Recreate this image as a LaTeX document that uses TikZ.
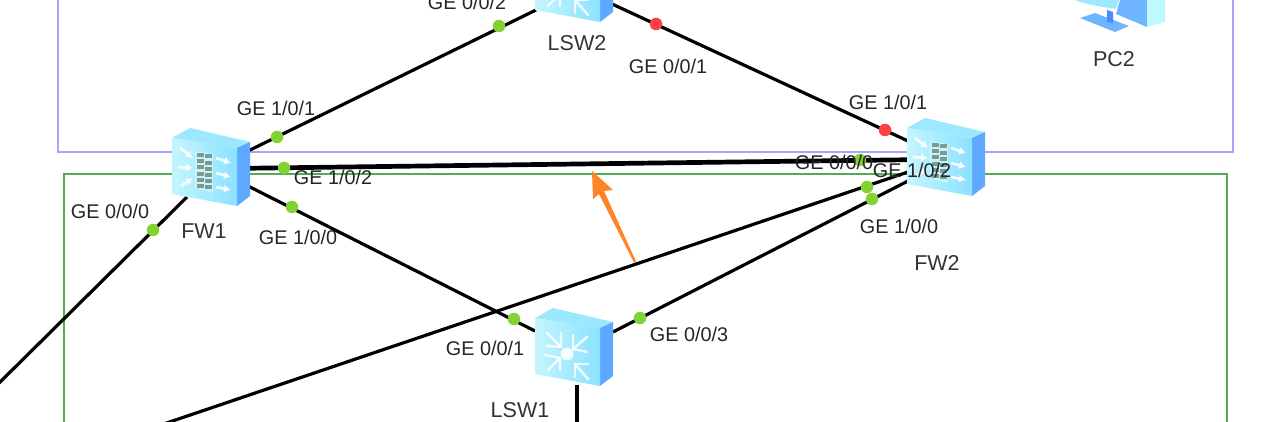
\documentclass[tikz,border=0pt]{standalone}
\usepackage{fontspec}
\setmainfont{Liberation Sans}
\usetikzlibrary{calc,arrows.meta}
\definecolor{frameP}{HTML}{A6A6FF}
\definecolor{frameG}{HTML}{55AA55}
\definecolor{dotG}{HTML}{82D234}
\definecolor{dotR}{HTML}{FF4040}
\definecolor{arrowO}{HTML}{FF8427}
\definecolor{faceA}{HTML}{C4F5FF}
\definecolor{faceB}{HTML}{8BE2FF}
\definecolor{topF}{HTML}{9CE8FF}
\definecolor{sideF}{HTML}{5FA8FF}
\definecolor{brickF}{HTML}{7E9A8E}
\definecolor{pcA}{HTML}{6FB4FF}
\definecolor{pcB}{HTML}{4A8CFF}
\definecolor{pcC}{HTML}{BFF8FF}
\definecolor{pcD}{HTML}{A0E8FF}
\tikzset{
  link/.style={draw=black,line width=3.2pt},
  port/.style={circle,inner sep=0pt,minimum size=12.5pt,fill=dotG,draw=none},
  portred/.style={port,fill=dotR},
  lbl/.style={font=\fontsize{19.8}{22}\selectfont,text=black!85,inner sep=0pt},
  devname/.style={font=\fontsize{21.5}{24}\selectfont,text=black!80,inner sep=0pt},
  whitearrow/.style={draw=white,opacity=.9,line width=2.6pt,-{Latex[length=7pt,width=8pt]}},
  whitebar/.style={draw=white,opacity=.85,line width=2.4pt,line cap=round,line join=round}
}
% box icon with its top-left front corner at the local origin
\newcommand{\boxicon}[1]{%
  \begin{scope}[shift={#1}]
    \fill[topF] (0,0) -- (18,-10) -- (78,4) -- (65,10) -- cycle;
    \fill[sideF] (65,10) -- (78,4) -- (78,58) -- (65,68) -- cycle;
    \shade[left color=faceA,right color=faceB] (0,0) -- (65,10) -- (65,68) -- (0,56) -- cycle;
  \end{scope}}
\newcommand{\fwicon}[1]{%
  \boxicon{#1}
  \begin{scope}[shift={#1}]
    \draw[whitearrow] (8,10) -- (21,20);
    \draw[whitearrow] (6,29) -- (21,30);
    \draw[whitearrow] (9,48) -- (21,40);
    \draw[whitearrow] (44,20) -- (59,25);
    \draw[whitearrow] (44,35) -- (59,39);
    \draw[whitearrow] (44,49) -- (59,52);
    \fill[faceA] (23,13) -- (41,16) -- (41,55) -- (23,50) -- cycle;
    \foreach \r in {0,1,2,3,4,5}{
      \fill[brickF] (24.5,{15+\r*6.2}) rectangle ++(7,4);
      \fill[brickF] (33,{16.5+\r*6.2}) rectangle ++(7,4);
    }
  \end{scope}}
\newcommand{\swicon}[1]{%
  \boxicon{#1}
  \begin{scope}[shift={#1}]
    \fill[white,opacity=.9] (32,36) circle (6.5);
    \draw[whitebar] (12,15) -- (26,29);
    \draw[whitebar] (26,15) -- (26,29) -- (12,28);
    \draw[whitebar] (52,19) -- (38,31);
    \draw[whitebar] (38,17) -- (38,31) -- (52,34);
    \draw[whitebar] (13,52) -- (25,40);
    \draw[whitebar] (10,37) -- (25,40) -- (25,52);
    \draw[whitebar] (53,61) -- (40,46);
    \draw[whitebar] (40,59) -- (40,46) -- (53,46);
  \end{scope}}
\begin{document}
\begin{tikzpicture}[x=1pt,y=-1pt]
  \clip (0,0) rectangle (1267,422);
  \fill[white] (0,0) rectangle (1267,422);
  % group frames
  \draw[frameP,line width=1.4pt] (58,-12) rectangle (1233,152);
  \draw[frameG,line width=1.4pt] (64,174) rectangle (1227,440);

  % connector ends
  \coordinate (fw1u) at (248,151);
  \coordinate (fw1m1) at (248,167.5);
  \coordinate (fw1m2) at (248,169);
  \coordinate (fw1d) at (248,186);
  \coordinate (fw1s) at (187,197);
  \coordinate (sw2l) at (536,10);
  \coordinate (sw2r) at (612,4);
  \coordinate (fw2u) at (908,141);
  \coordinate (fw2m1) at (908,159);
  \coordinate (fw2m2) at (908,160.5);
  \coordinate (fw2c) at (908,172);
  \coordinate (fw2d) at (908,181);
  \coordinate (sw1l) at (535,331);
  \coordinate (sw1r) at (613,332);
  \coordinate (sw1b) at (577,385);
  \coordinate (offA) at (140,432);
  \coordinate (offB) at (-10,392);
  \coordinate (offC) at (577,430);

  % connectors
  \draw[link] (fw1u) -- (sw2l);
  \draw[link] (sw2r) -- (fw2u);
  \draw[link] (fw1m1) -- (fw2m1);
  \draw[link] (fw1m2) -- (fw2m2);
  \draw[link] (fw1d) -- (sw1l);
  \draw[link] (sw1r) -- (fw2d);
  \draw[link] (fw2c) -- (offA);
  \draw[link] (fw1s) -- (offB);
  \draw[link] (sw1b) -- (offC);

  % port dots
  \node[port] (p1) at (277,137) {};
  \node[port] (p2) at (499,26) {};
  \node[portred] (p3) at (656,24) {};
  \node[portred] (p4) at (885,130) {};
  \node[port] (p5) at (284,168) {};
  \node[port] (p6) at (867,187) {};
  \node[port] (p7) at (872,199) {};
  \node[port] (p8) at (292,207) {};
  \node[port] (p9) at (514,319) {};
  \node[port] (p10) at (640,318) {};
  \node[port] (p11) at (153,230) {};
  \node[port] (p12) at (860,160) {};

  % devices
  \fwicon{(172,138)}
  \fwicon{(907,128)}
  \swicon{(535,318)}
  \swicon{(535,-46)}
  % PC2
  \fill[pcA] (1080,18) -- (1095,13) -- (1129,26) -- (1115,32) -- cycle;
  \fill[pcB] (1107,10) -- (1113,12) -- (1113,23) -- (1107,22) -- cycle;
  \fill[pcD] (1075,0) -- (1083,3) -- (1103,7) -- (1116,9) -- (1119,0) -- cycle;
  \fill[pcA] (1120,0) -- (1147,0) -- (1147,27) -- (1116,14) -- cycle;
  \fill[pcC] (1147,0) -- (1165,0) -- (1165,22) -- (1147,27) -- cycle;

  % labels
  \node[lbl] (l1) at (467,2) {GE 0/0/2};
  \node[lbl] (l2) at (276,108) {GE 1/0/1};
  \node[lbl] (l3) at (333,177) {GE 1/0/2};
  \node[lbl] (l4) at (298,237) {GE 1/0/0};
  \node[lbl] (l5) at (110,211) {GE 0/0/0};
  \node[lbl] (l6) at (668,66) {GE 0/0/1};
  \node[lbl] (l7) at (888,102) {GE 1/0/1};
  \node[lbl] (l8) at (834,162) {GE 0/0/0};
  \node[lbl] (l9) at (912,170) {GE 1/0/2};
  \node[lbl] (l10) at (899,226) {GE 1/0/0};
  \node[lbl] (l11) at (485,348) {GE 0/0/1};
  \node[lbl] (l12) at (689,334) {GE 0/0/3};
  \node[devname] (n1) at (204,231) {FW1};
  \node[devname] (n2) at (577,43) {LSW2};
  \node[devname] (n3) at (937,263) {FW2};
  \node[devname] (n4) at (520,410) {LSW1};
  \node[devname] (n5) at (1114,59) {PC2};

  % orange arrow
  \coordinate (atail) at (635,262);
  \coordinate (atip) at (592,171);
  \fill[arrowO] (atip) -- (613,190) -- (604,191) -- (636,261.5) -- (634,262.5) -- (599,194) -- (593,199) -- cycle;
\end{tikzpicture}
\end{document}
